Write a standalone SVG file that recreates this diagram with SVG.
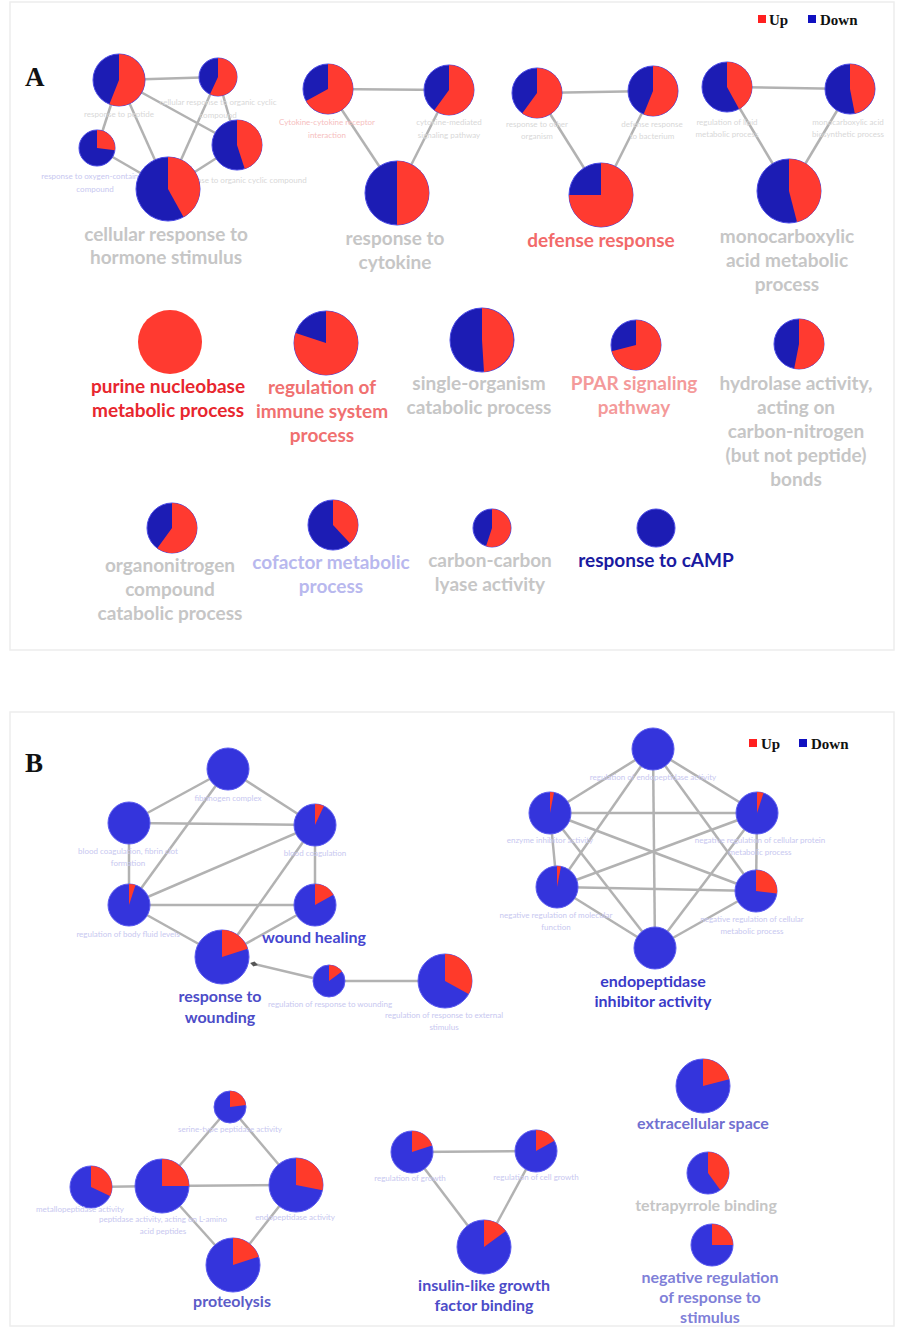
<svg xmlns="http://www.w3.org/2000/svg" width="897" height="1328" viewBox="0 0 897 1328">
<defs>
<marker id="dia" markerWidth="8" markerHeight="6" refX="4" refY="3" orient="auto" markerUnits="userSpaceOnUse">
<path d="M0,3 L4,0.5 L8,3 L4,5.5 Z" fill="#555"/>
</marker>
</defs>
<style>
.e{stroke:#b2b2b2;stroke-width:2.5;fill:none}
.bA{fill:#1c1cb4;stroke:#4a4ae6;stroke-width:1}
.rA{fill:#ff3a30}
.bB{fill:#3434dc;stroke:#5a5af0;stroke-width:1}
.rB{fill:#ff3a2a}
text{font-family:Lato,"Open Sans","Liberation Sans",sans-serif;text-anchor:middle}
.big{font-size:19px;font-weight:700}
.mid{font-size:16px;font-weight:700}
.sm{font-size:8px}
.g{fill:#c6c6c6}
.sg{fill:#d8d8d8}
.sb{fill:#c8c8f0}
.sr{fill:#f6c0c0}
.lg{font-family:"Liberation Serif",serif;font-weight:700;font-size:15px;text-anchor:start;fill:#111}
.pl{font-family:"Liberation Serif",serif;font-weight:700;font-size:27px;text-anchor:start;fill:#111}
</style>
<rect x="0" y="0" width="897" height="1328" fill="#ffffff"/>
<rect x="10" y="2" width="884" height="648" fill="#ffffff" stroke="#ededed" stroke-width="1.5"/>
<rect x="10" y="712" width="884" height="614" fill="#ffffff" stroke="#ededed" stroke-width="1.5"/>

<text class="pl" x="25" y="86">A</text>
<text class="pl" x="25" y="772">B</text>

<g id="legendA">
<rect x="758" y="15" width="8" height="8" fill="#ff2020"/>
<text class="lg" x="769" y="25">Up</text>
<rect x="808" y="15" width="8" height="8" fill="#1010c0"/>
<text class="lg" x="820" y="25">Down</text>
</g>
<g id="legendB">
<rect x="749" y="739" width="8" height="8" fill="#ff2020"/>
<text class="lg" x="761" y="749">Up</text>
<rect x="799" y="739" width="8" height="8" fill="#1010c0"/>
<text class="lg" x="811" y="749">Down</text>
</g>

<g id="connectors">
<line class="e" x1="119" y1="80" x2="218" y2="77"/>
<line class="e" x1="119" y1="80" x2="97" y2="148"/>
<line class="e" x1="119" y1="80" x2="168" y2="189"/>
<line class="e" x1="119" y1="80" x2="237" y2="145"/>
<line class="e" x1="218" y1="77" x2="237" y2="145"/>
<line class="e" x1="218" y1="77" x2="168" y2="189"/>
<line class="e" x1="97" y1="148" x2="168" y2="189"/>
<line class="e" x1="237" y1="145" x2="168" y2="189"/>
<line class="e" x1="328" y1="89" x2="449" y2="90"/>
<line class="e" x1="328" y1="89" x2="397" y2="193"/>
<line class="e" x1="449" y1="90" x2="397" y2="193"/>
<line class="e" x1="537" y1="93" x2="653" y2="91"/>
<line class="e" x1="537" y1="93" x2="601" y2="195"/>
<line class="e" x1="653" y1="91" x2="601" y2="195"/>
<line class="e" x1="727" y1="87" x2="850" y2="89"/>
<line class="e" x1="727" y1="87" x2="789" y2="191"/>
<line class="e" x1="850" y1="89" x2="789" y2="191"/>

<line class="e" x1="228" y1="769" x2="129" y2="823"/>
<line class="e" x1="228" y1="769" x2="315" y2="825"/>
<line class="e" x1="228" y1="769" x2="129" y2="905"/>
<line class="e" x1="129" y1="823" x2="315" y2="825"/>
<line class="e" x1="129" y1="823" x2="129" y2="905"/>
<line class="e" x1="315" y1="825" x2="129" y2="905"/>
<line class="e" x1="315" y1="825" x2="315" y2="905"/>
<line class="e" x1="315" y1="825" x2="222" y2="957"/>
<line class="e" x1="129" y1="905" x2="315" y2="905"/>
<line class="e" x1="129" y1="905" x2="222" y2="957"/>
<line class="e" x1="315" y1="905" x2="222" y2="957"/>
<line class="e" x1="313" y1="978" x2="254" y2="964" marker-end="url(#dia)"/>
<line class="e" x1="329" y1="981" x2="445" y2="981"/>

<line class="e" x1="653" y1="749" x2="550" y2="813"/>
<line class="e" x1="653" y1="749" x2="757" y2="813"/>
<line class="e" x1="653" y1="749" x2="557" y2="887"/>
<line class="e" x1="653" y1="749" x2="756" y2="891"/>
<line class="e" x1="653" y1="749" x2="655" y2="948"/>
<line class="e" x1="550" y1="813" x2="757" y2="813"/>
<line class="e" x1="550" y1="813" x2="557" y2="887"/>
<line class="e" x1="550" y1="813" x2="756" y2="891"/>
<line class="e" x1="550" y1="813" x2="655" y2="948"/>
<line class="e" x1="757" y1="813" x2="557" y2="887"/>
<line class="e" x1="757" y1="813" x2="756" y2="891"/>
<line class="e" x1="757" y1="813" x2="655" y2="948"/>
<line class="e" x1="557" y1="887" x2="756" y2="891"/>
<line class="e" x1="557" y1="887" x2="655" y2="948"/>
<line class="e" x1="756" y1="891" x2="655" y2="948"/>

<line class="e" x1="91" y1="1187" x2="162" y2="1186"/>
<line class="e" x1="162" y1="1186" x2="230" y2="1107"/>
<line class="e" x1="230" y1="1107" x2="296" y2="1185"/>
<line class="e" x1="162" y1="1186" x2="296" y2="1185"/>
<line class="e" x1="162" y1="1186" x2="233" y2="1265"/>
<line class="e" x1="296" y1="1185" x2="233" y2="1265"/>

<line class="e" x1="412" y1="1152" x2="536" y2="1151"/>
<line class="e" x1="412" y1="1152" x2="484" y2="1247"/>
<line class="e" x1="536" y1="1151" x2="484" y2="1247"/>
</g>

<!-- Panel A cluster 1 -->
<g id="a_peptide">
<circle class="bA" cx="119" cy="80" r="26"/>
<path class="rA" d="M119,80 L119,54 A26,26 0 1 1 109.4,104.2 Z"/>
<text class="sm sg" x="119" y="117">response to peptide</text>
</g>
<g id="a_cell_org_cyclic">
<circle class="bA" cx="218" cy="77" r="19"/>
<path class="rA" d="M218,77 L218,58 A19,19 0 1 1 210,94.2 Z"/>
<text class="sm sg" x="218" y="105">cellular response to organic cyclic</text>
<text class="sm sg" x="218" y="118">compound</text>
</g>
<g id="a_oxygen">
<circle class="bA" cx="97" cy="148" r="18"/>
<path class="rA" d="M97,148 L97,130 A18,18 0 0 1 114.9,150.2 Z"/>
<text class="sm sb" x="95" y="179">response to oxygen-containing</text>
<text class="sm sb" x="95" y="192">compound</text>
</g>
<g id="a_org_cyclic">
<circle class="bA" cx="237" cy="145" r="25"/>
<path class="rA" d="M237,145 L237,120 A25,25 0 0 1 244.7,168.8 Z"/>
<text class="sm sg" x="242" y="183">response to organic cyclic compound</text>
</g>
<g id="a_hormone">
<circle class="bA" cx="168" cy="189" r="32"/>
<path class="rA" d="M168,189 L168,157 A32,32 0 0 1 183.5,217 Z"/>
<text class="big g" x="166" y="241">cellular response to</text>
<text class="big g" x="166" y="264">hormone stimulus</text>
</g>

<!-- cluster 2 -->
<g id="a_cytokine_receptor">
<circle class="bA" cx="328" cy="89" r="25"/>
<path class="rA" d="M328,89 L328,64 A25,25 0 1 1 306.1,101.1 Z"/>
<text class="sm sr" x="327" y="125">Cytokine-cytokine receptor</text>
<text class="sm sr" x="327" y="138">interaction</text>
</g>
<g id="a_cytokine_signaling">
<circle class="bA" cx="449" cy="90" r="25"/>
<path class="rA" d="M449,90 L449,65 A25,25 0 1 1 434.3,110.2 Z"/>
<text class="sm sg" x="449" y="125">cytokine-mediated</text>
<text class="sm sg" x="449" y="138">signaling pathway</text>
</g>
<g id="a_resp_cytokine">
<circle class="bA" cx="397" cy="193" r="32"/>
<path class="rA" d="M397,193 L397,161 A32,32 0 0 1 397,225 Z"/>
<text class="big g" x="395" y="245">response to</text>
<text class="big g" x="395" y="269">cytokine</text>
</g>

<!-- cluster 3 -->
<g id="a_other_organism">
<circle class="bA" cx="537" cy="93" r="25"/>
<path class="rA" d="M537,93 L537,68 A25,25 0 1 1 522.3,113.2 Z"/>
<text class="sm sg" x="537" y="127">response to other</text>
<text class="sm sg" x="537" y="139">organism</text>
</g>
<g id="a_bacterium">
<circle class="bA" cx="653" cy="91" r="25"/>
<path class="rA" d="M653,91 L653,66 A25,25 0 1 1 643.6,114.2 Z"/>
<text class="sm sg" x="652" y="127">defense response</text>
<text class="sm sg" x="652" y="139">to bacterium</text>
</g>
<g id="a_defense">
<circle class="bA" cx="601" cy="195" r="32"/>
<path class="rA" d="M601,195 L601,163 A32,32 0 1 1 569,195 Z"/>
<text class="big" fill="#f26a6a" x="601" y="247">defense response</text>
</g>

<!-- cluster 4 -->
<g id="a_lipid">
<circle class="bA" cx="727" cy="87" r="25"/>
<path class="rA" d="M727,87 L727,62 A25,25 0 0 1 739.1,108.9 Z"/>
<text class="sm sg" x="727" y="125">regulation of lipid</text>
<text class="sm sg" x="727" y="137">metabolic process</text>
</g>
<g id="a_monocarb_bio">
<circle class="bA" cx="850" cy="89" r="25"/>
<path class="rA" d="M850,89 L850,64 A25,25 0 0 1 854.8,113.5 Z"/>
<text class="sm sg" x="848" y="125">monocarboxylic acid</text>
<text class="sm sg" x="848" y="137">biosynthetic process</text>
</g>
<g id="a_monocarb">
<circle class="bA" cx="789" cy="191" r="32"/>
<path class="rA" d="M789,191 L789,159 A32,32 0 0 1 797,222 Z"/>
<text class="big g" x="787" y="243">monocarboxylic</text>
<text class="big g" x="787" y="267">acid metabolic</text>
<text class="big g" x="787" y="291">process</text>
</g>

<!-- row 2 -->
<g id="a_purine">
<circle class="rA" cx="170" cy="342" r="32"/>
<text class="big" fill="#e8262e" x="168" y="393">purine nucleobase</text>
<text class="big" fill="#e8262e" x="168" y="417">metabolic process</text>
</g>
<g id="a_immune">
<circle class="bA" cx="326" cy="343" r="32"/>
<path class="rA" d="M326,343 L326,311 A32,32 0 1 1 295.6,333.1 Z"/>
<text class="big" fill="#f07070" x="322" y="394">regulation of</text>
<text class="big" fill="#f07070" x="322" y="418">immune system</text>
<text class="big" fill="#f07070" x="322" y="442">process</text>
</g>
<g id="a_single_org">
<circle class="bA" cx="482" cy="340" r="32"/>
<path class="rA" d="M482,340 L482,308 A32,32 0 0 1 484,371.9 Z"/>
<text class="big g" x="479" y="390">single-organism</text>
<text class="big g" x="479" y="414">catabolic process</text>
</g>
<g id="a_ppar">
<circle class="bA" cx="636" cy="345" r="25"/>
<path class="rA" d="M636,345 L636,320 A25,25 0 1 1 611.8,351.2 Z"/>
<text class="big" fill="#f49a9a" x="634" y="390">PPAR signaling</text>
<text class="big" fill="#f49a9a" x="634" y="414">pathway</text>
</g>
<g id="a_hydrolase">
<circle class="bA" cx="799" cy="344" r="25"/>
<path class="rA" d="M799,344 L799,319 A25,25 0 1 1 794.2,368.5 Z"/>
<text class="big g" x="796" y="390">hydrolase activity,</text>
<text class="big g" x="796" y="414">acting on</text>
<text class="big g" x="796" y="438">carbon-nitrogen</text>
<text class="big g" x="796" y="462">(but not peptide)</text>
<text class="big g" x="796" y="486">bonds</text>
</g>

<!-- row 3 -->
<g id="a_organonitrogen">
<circle class="bA" cx="172" cy="528" r="25"/>
<path class="rA" d="M172,528 L172,503 A25,25 0 1 1 157.3,548.2 Z"/>
<text class="big g" x="170" y="572">organonitrogen</text>
<text class="big g" x="170" y="596">compound</text>
<text class="big g" x="170" y="620">catabolic process</text>
</g>
<g id="a_cofactor">
<circle class="bA" cx="333" cy="525" r="25"/>
<path class="rA" d="M333,525 L333,500 A25,25 0 0 1 350,543.3 Z"/>
<text class="big" fill="#b8b8ee" x="331" y="569">cofactor metabolic</text>
<text class="big" fill="#b8b8ee" x="331" y="593">process</text>
</g>
<g id="a_lyase">
<circle class="bA" cx="492" cy="528" r="19"/>
<path class="rA" d="M492,528 L492,509 A19,19 0 1 1 486.1,546.1 Z"/>
<text class="big g" x="490" y="567">carbon-carbon</text>
<text class="big g" x="490" y="591">lyase activity</text>
</g>
<g id="a_camp">
<circle class="bA" cx="656" cy="528" r="19"/>
<text class="big" fill="#1a1aa0" x="656" y="567">response to cAMP</text>
</g>

<!-- Panel B cluster 1 -->
<g id="b_fibrinogen">
<circle class="bB" cx="228" cy="769" r="21"/>
<text class="sm sb" x="228" y="801">fibrinogen complex</text>
</g>
<g id="b_fibrin_clot">
<circle class="bB" cx="129" cy="823" r="21"/>
<text class="sm sb" x="128" y="854">blood coagulation, fibrin clot</text>
<text class="sm sb" x="128" y="866">formation</text>
</g>
<g id="b_coagulation">
<circle class="bB" cx="315" cy="825" r="21"/>
<path class="rB" d="M315,825 L315,804 A21,21 0 0 1 323.9,806 Z"/>
<text class="sm sb" x="315" y="856">blood coagulation</text>
</g>
<g id="b_body_fluid">
<circle class="bB" cx="129" cy="905" r="21"/>
<path class="rB" d="M129,905 L129,884 A21,21 0 0 1 135.5,885 Z"/>
<text class="sm sb" x="128" y="937">regulation of body fluid levels</text>
</g>
<g id="b_wound_healing">
<circle class="bB" cx="315" cy="905" r="21"/>
<path class="rB" d="M315,905 L315,884 A21,21 0 0 1 333.4,894.8 Z"/>
<text class="mid" fill="#4646d0" x="314" y="943">wound healing</text>
</g>
<g id="b_resp_wounding">
<circle class="bB" cx="222" cy="957" r="27"/>
<path class="rB" d="M222,957 L222,930 A27,27 0 0 1 247.7,948.7 Z"/>
<text class="mid" fill="#4c4cc8" x="220" y="1002">response to</text>
<text class="mid" fill="#4c4cc8" x="220" y="1023">wounding</text>
</g>
<g id="b_reg_resp_wounding">
<circle class="bB" cx="329" cy="981" r="16"/>
<path class="rB" d="M329,981 L329,965 A16,16 0 0 1 341.9,971.6 Z"/>
<text class="sm sb" x="330" y="1007">regulation of response to wounding</text>
</g>
<g id="b_reg_resp_external">
<circle class="bB" cx="445" cy="981" r="27"/>
<path class="rB" d="M445,981 L445,954 A27,27 0 0 1 468.6,994.1 Z"/>
<text class="sm sb" x="444" y="1018">regulation of response to external</text>
<text class="sm sb" x="444" y="1030">stimulus</text>
</g>

<!-- cluster 2 -->
<g id="b_reg_endopeptidase">
<circle class="bB" cx="653" cy="749" r="21"/>
<text class="sm sb" x="653" y="780">regulation of endopeptidase activity</text>
</g>
<g id="b_enzyme_inhibitor">
<circle class="bB" cx="550" cy="813" r="21"/>
<path class="rB" d="M550,813 L550,792 A21,21 0 0 1 554,792.4 Z"/>
<text class="sm sb" x="550" y="843">enzyme inhibitor activity</text>
</g>
<g id="b_neg_cell_protein">
<circle class="bB" cx="757" cy="813" r="21"/>
<path class="rB" d="M757,813 L757,792 A21,21 0 0 1 763.5,793 Z"/>
<text class="sm sb" x="760" y="843">negative regulation of cellular protein</text>
<text class="sm sb" x="760" y="855">metabolic process</text>
</g>
<g id="b_neg_molecular">
<circle class="bB" cx="557" cy="887" r="21"/>
<path class="rB" d="M557,887 L557,866 A21,21 0 0 1 561,866.4 Z"/>
<text class="sm sb" x="556" y="918">negative regulation of molecular</text>
<text class="sm sb" x="556" y="930">function</text>
</g>
<g id="b_neg_cell_metabolic">
<circle class="bB" cx="756" cy="891" r="21"/>
<path class="rB" d="M756,891 L756,870 A21,21 0 0 1 776.9,893.6 Z"/>
<text class="sm sb" x="752" y="922">negative regulation of cellular</text>
<text class="sm sb" x="752" y="934">metabolic process</text>
</g>
<g id="b_endopeptidase_inhibitor">
<circle class="bB" cx="655" cy="948" r="21"/>
<text class="mid" fill="#3a3ac8" x="653" y="987">endopeptidase</text>
<text class="mid" fill="#3a3ac8" x="653" y="1007">inhibitor activity</text>
</g>

<!-- cluster 3 -->
<g id="b_serine">
<circle class="bB" cx="230" cy="1107" r="16"/>
<path class="rB" d="M230,1107 L230,1091 A16,16 0 0 1 245.9,1105 Z"/>
<text class="sm sb" x="230" y="1132">serine-type peptidase activity</text>
</g>
<g id="b_metallo">
<circle class="bB" cx="91" cy="1187" r="21"/>
<path class="rB" d="M91,1187 L91,1166 A21,21 0 0 1 110,1195.9 Z"/>
<text class="sm sb" x="80" y="1212">metallopeptidase activity</text>
</g>
<g id="b_peptidase_lamino">
<circle class="bB" cx="162" cy="1186" r="27"/>
<path class="rB" d="M162,1186 L162,1159 A27,27 0 0 1 189,1186 Z"/>
<text class="sm sb" x="163" y="1222">peptidase activity, acting on L-amino</text>
<text class="sm sb" x="163" y="1234">acid peptides</text>
</g>
<g id="b_endopeptidase">
<circle class="bB" cx="296" cy="1185" r="27"/>
<path class="rB" d="M296,1185 L296,1158 A27,27 0 0 1 322.5,1190.2 Z"/>
<text class="sm sb" x="295" y="1220">endopeptidase activity</text>
</g>
<g id="b_proteolysis">
<circle class="bB" cx="233" cy="1265" r="27"/>
<path class="rB" d="M233,1265 L233,1238 A27,27 0 0 1 258.7,1256.7 Z"/>
<text class="mid" fill="#5c5cc8" x="232" y="1307">proteolysis</text>
</g>

<!-- cluster 4 -->
<g id="b_reg_growth">
<circle class="bB" cx="412" cy="1152" r="21"/>
<path class="rB" d="M412,1152 L412,1131 A21,21 0 0 1 432,1145.5 Z"/>
<text class="sm sb" x="410" y="1181">regulation of growth</text>
</g>
<g id="b_reg_cell_growth">
<circle class="bB" cx="536" cy="1151" r="21"/>
<path class="rB" d="M536,1151 L536,1130 A21,21 0 0 1 554.4,1140.8 Z"/>
<text class="sm sb" x="536" y="1180">regulation of cell growth</text>
</g>
<g id="b_igf_binding">
<circle class="bB" cx="484" cy="1247" r="27"/>
<path class="rB" d="M484,1247 L484,1220 A27,27 0 0 1 505.8,1231.1 Z"/>
<text class="mid" fill="#4c4cc8" x="484" y="1291">insulin-like growth</text>
<text class="mid" fill="#4c4cc8" x="484" y="1311">factor binding</text>
</g>

<!-- singletons -->
<g id="b_extracellular">
<circle class="bB" cx="703" cy="1086" r="27"/>
<path class="rB" d="M703,1086 L703,1059 A27,27 0 0 1 729.2,1079.3 Z"/>
<text class="mid" fill="#7070d0" x="703" y="1129">extracellular space</text>
</g>
<g id="b_tetrapyrrole">
<circle class="bB" cx="708" cy="1173" r="21"/>
<path class="rB" d="M708,1173 L708,1152 A21,21 0 0 1 720.3,1190 Z"/>
<text class="mid g" x="706" y="1211">tetrapyrrole binding</text>
</g>
<g id="b_neg_resp_stimulus">
<circle class="bB" cx="712" cy="1245" r="21"/>
<path class="rB" d="M712,1245 L712,1224 A21,21 0 0 1 733,1245 Z"/>
<text class="mid" fill="#8080d8" x="710" y="1283">negative regulation</text>
<text class="mid" fill="#8080d8" x="710" y="1303">of response to</text>
<text class="mid" fill="#8080d8" x="710" y="1323">stimulus</text>
</g>
</svg>
